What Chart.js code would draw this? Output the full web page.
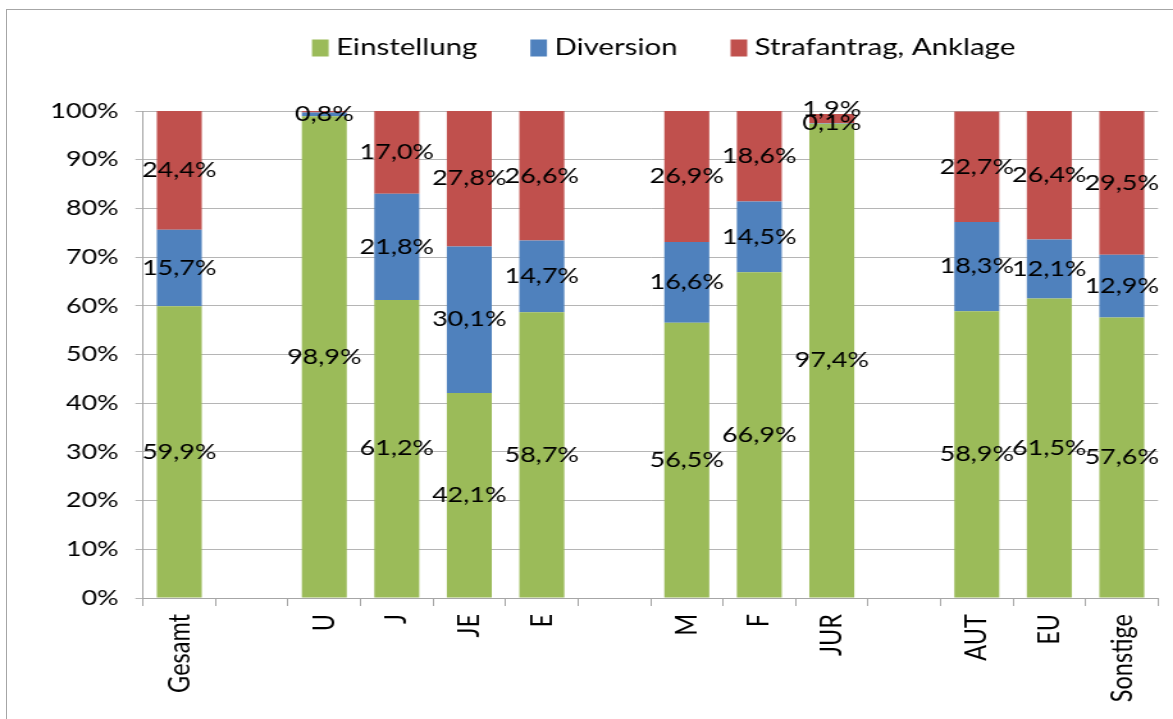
<!DOCTYPE html>
<html>
<head>
<meta charset="utf-8">
<script src="https://cdn.jsdelivr.net/npm/chart.js@4/dist/chart.umd.min.js"></script>
<style>
  html, body { margin: 0; padding: 0; background: #fff; overflow: hidden; }
  #frame { position: absolute; left: 6px; top: 9px; width: 1400px; height: 900px;
           border-left: 1px solid #a6a6a6; border-top: 1px solid #a6a6a6; }
  #wrap { position: absolute; left: 0; top: 0; transform: scaleX(1.2806); transform-origin: 0 0; }
</style>
</head>
<body>
<div id="frame"></div>
<div id="wrap"><canvas id="c" width="916" height="719"></canvas></div>
<script>
// Categories (empty strings are spacer columns between groups)
const categories = ['Gesamt', '', 'U', 'J', 'JE', 'E', '', 'M', 'F', 'JUR', '', 'AUT', 'EU', 'Sonstige'];

// Shares in percent
const einstellung = [59.9, null, 98.9, 61.2, 42.1, 58.7, null, 56.5, 66.9, 97.4, null, 58.9, 61.5, 57.6];
const diversion   = [15.7, null, 0.8, 21.8, 30.1, 14.7, null, 16.6, 14.5, 0.1, null, 18.3, 12.1, 12.9];
const anklage     = [24.4, null, 0.3, 17.0, 27.8, 26.6, null, 26.9, 18.6, 1.9, null, 22.7, 26.4, 29.5];

const seriesNames = ['Einstellung', 'Diversion', 'Strafantrag, Anklage'];
const seriesColors = ['#9BBB59', '#4F81BD', '#C0504D'];

// Value labels that are not printed (series index, category)
const hiddenLabels = [[2, 'U']];

const yTicks = [0, 10, 20, 30, 40, 50, 60, 70, 80, 90, 100];

const FONT = 'Lato, "Open Sans", sans-serif';

function fmt(v) { return v.toFixed(1).replace('.', ',') + '%'; }

// Draws the centred value labels inside each stacked segment
const valueLabels = {
  id: 'valueLabels',
  afterDatasetsDraw(chart) {
    const ctx = chart.ctx;
    ctx.save();
    ctx.font = '21px ' + FONT;
    ctx.fillStyle = '#000';
    ctx.textAlign = 'center';
    ctx.textBaseline = 'middle';
    const lastY = {};
    chart.data.datasets.forEach((ds, di) => {
      const meta = chart.getDatasetMeta(di);
      meta.data.forEach((bar, i) => {
        const v = ds.data[i];
        if (v == null) return;
        if (hiddenLabels.some(h => h[0] === di && h[1] === categories[i])) return;
        let y = (bar.y + bar.base) / 2;
        if (lastY[i] !== undefined && y > lastY[i] - 14) y = lastY[i] - 14;
        lastY[i] = y;
        ctx.fillText(fmt(v), bar.x, y);
      });
    });
    ctx.restore();
  }
};

// Legend row across the top
const topLegend = {
  id: 'topLegend',
  afterDraw(chart) {
    const ctx = chart.ctx;
    ctx.save();
    ctx.font = '23px ' + FONT;
    ctx.textBaseline = 'middle';
    ctx.textAlign = 'left';
    let x = 243.6;
    const y = 48;
    chart.data.datasets.forEach(ds => {
      ctx.fillStyle = ds.backgroundColor;
      ctx.fillRect(x, y - 8.5, 13, 17);
      ctx.fillStyle = '#000';
      const tx = x + 13 + 5.8;
      ctx.fillText(ds.label, tx, y);
      x = tx + ctx.measureText(ds.label).width + 41.4;
    });
    ctx.restore();
  }
};

new Chart(document.getElementById('c'), {
  type: 'bar',
  data: {
    labels: categories,
    datasets: [einstellung, diversion, anklage].map((d, k) => ({
      label: seriesNames[k],
      data: d,
      backgroundColor: seriesColors[k],
      borderWidth: 0,
      barPercentage: 0.62,
      categoryPercentage: 1.0
    }))
  },
  options: {
    responsive: false,
    animation: false,
    devicePixelRatio: 1,
    layout: { padding: { top: 111, right: 11.7, bottom: 0, left: 0 } },
    plugins: { legend: { display: false }, tooltip: { enabled: false } },
    scales: {
      x: {
        stacked: true,
        grid: { drawOnChartArea: false, tickLength: 8, color: '#a6a6a6', offset: true },
        border: { color: '#a6a6a6' },
        ticks: { minRotation: 90, maxRotation: 90, autoSkip: false, padding: 8,
                 color: '#000', font: { family: FONT, size: 23.5 } },
        afterFit(s) { s.height = 121; }
      },
      y: {
        stacked: true,
        min: 0, max: 100,
        afterBuildTicks(s) { s.ticks = yTicks.map(v => ({ value: v })); },
        ticks: { padding: 13, color: '#000', font: { family: FONT, size: 21 },
                 callback: v => v + '%' },
        grid: { color: '#b5b5b5', tickLength: 6 },
        border: { color: '#a6a6a6' },
        afterFit(s) { s.width = 111.7; }
      }
    }
  },
  plugins: [valueLabels, topLegend]
});
</script>
</body>
</html>
